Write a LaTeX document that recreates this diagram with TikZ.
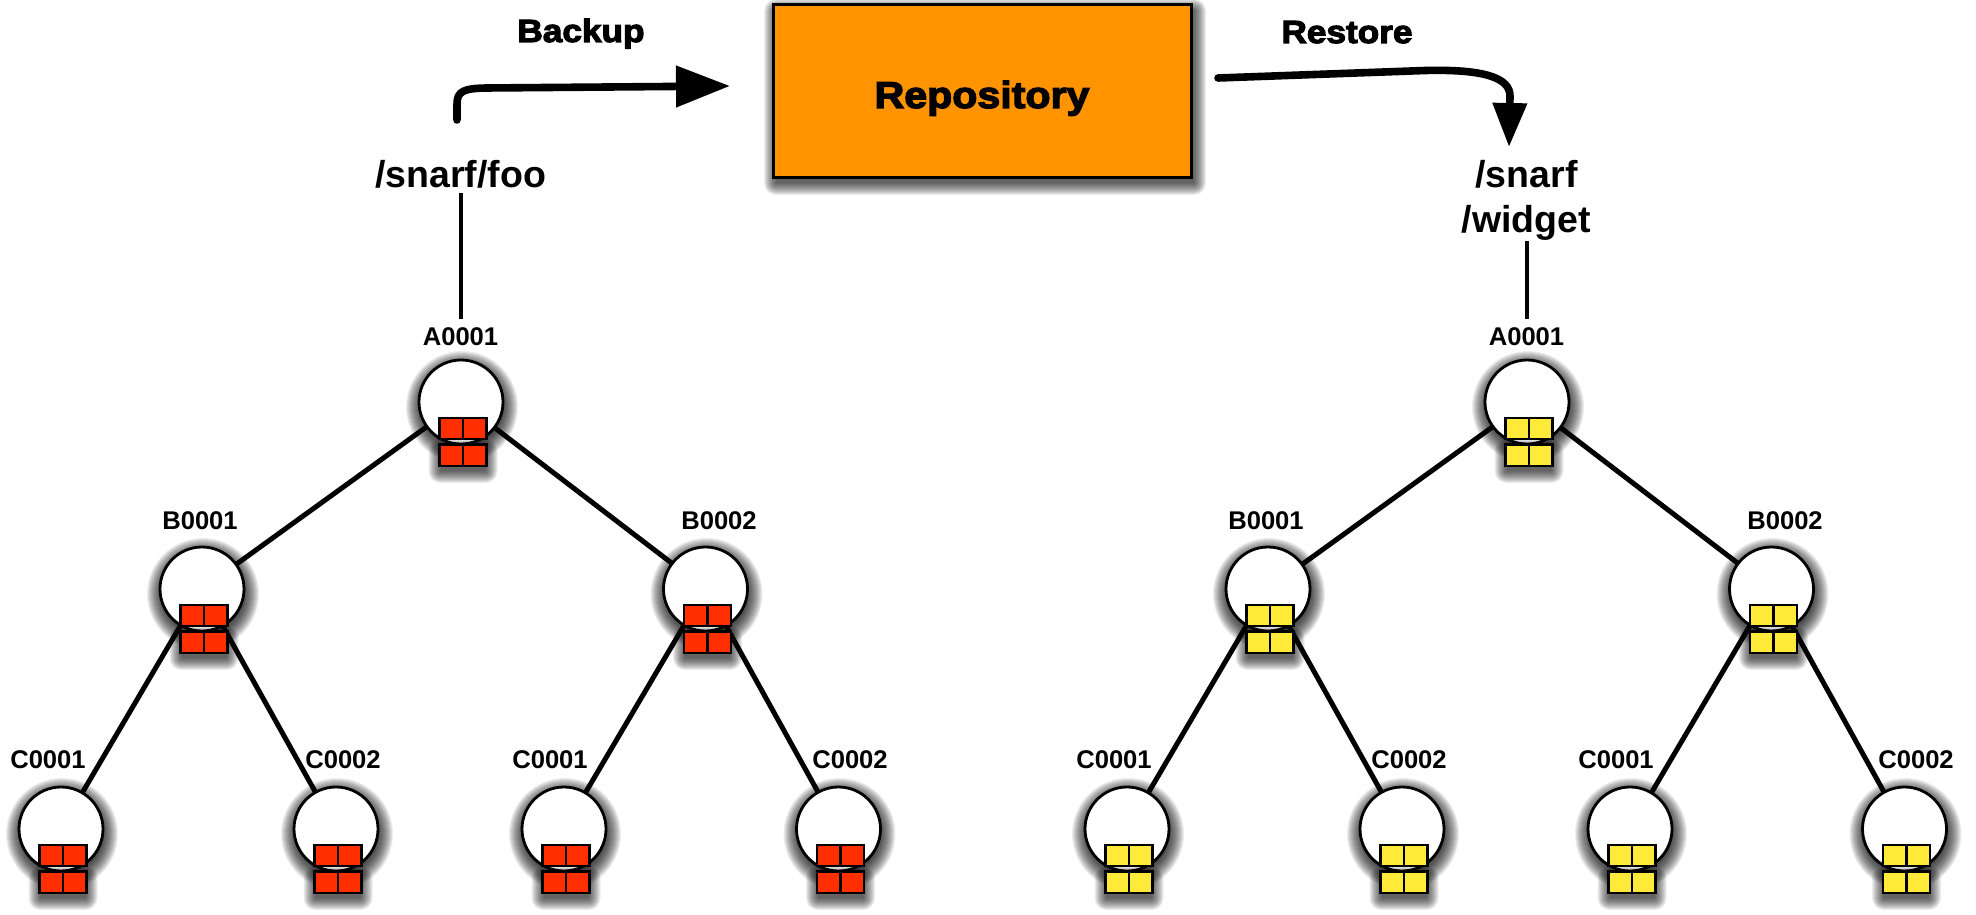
\documentclass[tikz,border=0pt]{standalone}
\usepackage{fontspec}
\usetikzlibrary{arrows.meta}

\newfontfamily\labelfont{Liberation Sans}
\newfontfamily\heavyfont{Liberation Sans}[FakeStretch=1.1,BoldFeatures={FakeBold=3.5}]

\definecolor{repoorange}{HTML}{FF9300}
\definecolor{cellred}{HTML}{FF2F00}
\definecolor{cellyellow}{HTML}{FFEA3A}

\tikzset{
  treenode/.style={circle, draw=black, line width=1.4pt, fill=white,
    minimum size=42pt, inner sep=0pt},
  nodelabel/.style={font=\labelfont\bfseries\fontsize{12.8pt}{15pt}\selectfont,
    anchor=base, inner sep=4pt},
  pathlabel/.style={font=\labelfont\bfseries\fontsize{18.75pt}{22.5pt}\selectfont,
    anchor=base, align=center},
  heading/.style={font=\heavyfont\bfseries\fontsize{16pt}{18pt}\selectfont,
    anchor=base},
  repobox/.style={draw=black, line width=1.5pt, fill=repoorange,
    minimum width=209pt, minimum height=86pt,
    font=\heavyfont\bfseries\fontsize{18.7pt}{22pt}\selectfont,
    text height=20.5pt, text depth=3.5pt},
  treeedge/.style={line width=2.5pt},
  stem/.style={line width=2pt},
  flow/.style={line width=3.8pt, line cap=round},
  cell/.style={draw=black, line width=1.2pt},
  haze/.style={fill=black, opacity=0.07},
}

% Soft drop shadow under a tree node, built from stacked translucent discs
\newcommand\nodeshadow[1]{%
  \foreach \g in {0,...,16}{
    \fill[haze] ([shift={(1,5)}]#1.center) circle[radius={(40+\g)*0.5pt}];
  }
}

% Two rows of two storage cells hanging from the bottom of a tree node
\newcommand\drawcells[2]{%
  \foreach \g in {0,...,12}{
    \fill[haze, rounded corners={\g*0.5pt}]
      ([shift={(-20.5-\g,49-\g)}]#1.center) rectangle ([shift={(24.5+\g,69+\g)}]#1.center);
  }
  \filldraw[cell, fill=#2]
    ([shift={(-21.5,42.5)}]#1.center) rectangle ([shift={(25.5,64)}]#1.center);
  \draw[cell] ([shift={(2,42.5)}]#1.center) -- ([shift={(2,64)}]#1.center);
  \filldraw[cell, fill=#2]
    ([shift={(-21.5,16)}]#1.center) rectangle ([shift={(25.5,37)}]#1.center);
  \draw[cell] ([shift={(2,16)}]#1.center) -- ([shift={(2,37)}]#1.center);
}

\begin{document}
\begin{tikzpicture}[x=0.5pt, y=-0.5pt]
\useasboundingbox (0,0) rectangle (1976,915);

% repository with its soft shadow
\coordinate (repoc) at (982,91);
\foreach \g in {0,...,12}{
  \fill[haze, rounded corners={\g*0.5pt}]
    ([shift={(-209+3-\g,-86+6-\g)}]repoc) rectangle ([shift={(209+3+\g,86+6+\g)}]repoc);
}
\node[repobox] (repo) at (repoc) {Repository};
\node[heading] (bkLabel) at (581,42) {Backup};
\node[heading] (rsLabel) at (1347,43) {Restore};

% the two transfer arrows
\coordinate (bkFrom) at (457,120);
\coordinate (bkTo) at (730,86);
\draw[flow, -{Triangle[length=27pt,width=20pt]}]
  (bkFrom) -- (457,104) .. controls (457,91) and (464,88.5) .. (486,88) -- (bkTo);

\coordinate (rsFrom) at (1218,78);
\coordinate (rsTo) at (1509,147);
\draw[flow, -{Triangle[length=22pt,width=16.5pt]}]
  (rsFrom) -- (1425,70.5) .. controls (1485,69) and (1510,78) .. (1510,96) -- (rsTo);

% path names above the two tree roots (base = last line)
\node[pathlabel, inner sep=2.5pt] (lpath) at (460.5,187) {/snarf/foo};
\node[pathlabel, inner sep=0.5pt] (rpath) at (1526.5,232) {/snarf\\/widget};

% the two trees: source (red cells) and restored copy (yellow cells)
\foreach \t/\off/\col in {l/0/cellred, r/1066/cellyellow}{
  \foreach \n/\x/\y/\lab/\lx/\ly in {
      A/461/402/A0001/460.5/345,
      B1/202/589/B0001/200/529,
      B2/705.5/589/B0002/719/529,
      C1/61/829/C0001/48/768,
      C2/336/829/C0002/343/768,
      C3/564/829/C0001/550/768,
      C4/838.5/829/C0002/850/768}{
    \coordinate (\t\n c) at (\off+\x,\y);
    \node[nodelabel] (\t\n lab) at (\off+\lx,\ly) {\lab};
  }
  \draw[stem] (\t path) -- (\t Alab);
  \draw[treeedge] (\t Ac) -- (\t B1c);
  \draw[treeedge] (\t Ac) -- (\t B2c);
  \draw[treeedge] (\t B1c) -- (\t C1c);
  \draw[treeedge] (\t B1c) -- (\t C2c);
  \draw[treeedge] (\t B2c) -- (\t C3c);
  \draw[treeedge] (\t B2c) -- (\t C4c);
  \foreach \n in {A,B1,B2,C1,C2,C3,C4}{
    \nodeshadow{\t\n c}
    \node[treenode] (\t\n) at (\t\n c) {};
    \drawcells{\t\n}{\col}
  }
}
\end{tikzpicture}
\end{document}
